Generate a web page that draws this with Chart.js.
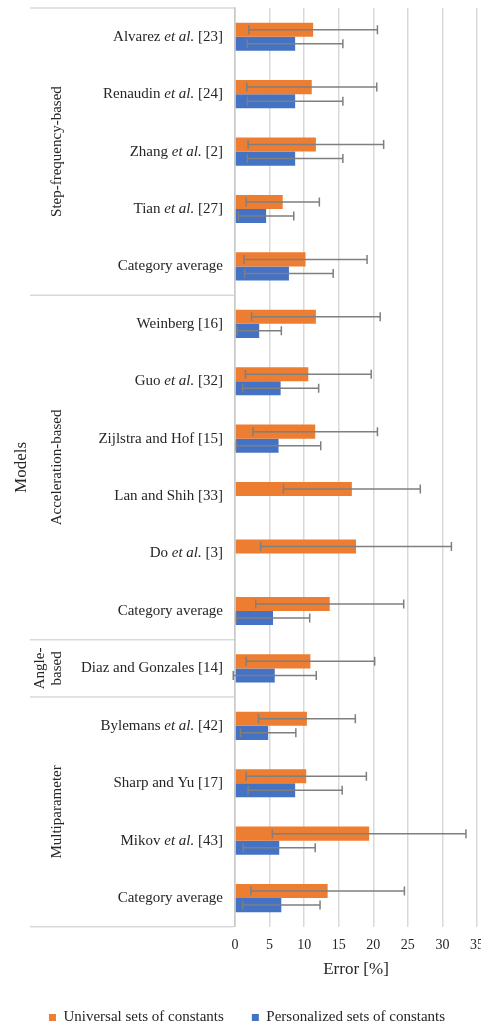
<!DOCTYPE html>
<html>
<head>
<meta charset="utf-8">
<script src="https://cdn.jsdelivr.net/npm/chart.js@4"></script>
<style>
  html, body { margin: 0; padding: 0; background: #fff; overflow: hidden; }
  #wrap { position: relative; width: 494px; height: 1025px; }
</style>
</head>
<body>
<div id="wrap"><canvas id="chart"></canvas></div>
<script>
// labels: text between * * is drawn in italics
const models = ['Alvarez *et al.* [23]', 'Renaudin *et al.* [24]', 'Zhang *et al.* [2]', 'Tian *et al.* [27]',
  'Category average', 'Weinberg [16]', 'Guo *et al.* [32]', 'Zijlstra and Hof [15]', 'Lan and Shih [33]',
  'Do *et al.* [3]', 'Category average', 'Diaz and Gonzales [14]', 'Bylemans *et al.* [42]', 'Sharp and Yu [17]',
  'Mikov *et al.* [43]', 'Category average']
const universal = [11.3, 11.1, 11.7, 6.9, 10.2, 11.7, 10.6, 11.6, 16.9, 17.5, 13.7, 10.9, 10.4, 10.3, 19.4, 13.4]
const universalSd = [9.3, 9.4, 9.8, 5.3, 8.9, 9.3, 9.1, 9.0, 9.9, 13.8, 10.7, 9.3, 7.0, 8.7, 14.0, 11.1]
const personalized = [8.7, 8.7, 8.7, 4.5, 7.8, 3.5, 6.6, 6.3, null, null, 5.5, 5.75, 4.8, 8.7, 6.4, 6.7]
const personalizedSd = [6.9, 6.9, 6.9, 4.0, 6.4, 3.2, 5.5, 6.1, null, null, 5.3, 6.0, 4.0, 6.8, 5.2, 5.6]
const groupNames = [['Step-frequency-based'], ['Acceleration-based'], ['Angle-', 'based'], ['Multiparameter']]
const groupSizes = [5, 6, 1, 4]
const xTicks = [0, 5, 10, 15, 20, 25, 30, 35]

const SERIF = "'Liberation Serif', 'DejaVu Serif', serif"
const TEXT = '#262626'
const LINE = '#d9d9d9'

function drawMixed(ctx, label, xRight, y, size) {
  const parts = label.split('*')
  let w = 0
  parts.forEach((p, i) => {
    ctx.font = (i % 2 ? 'italic ' : '') + size + 'px ' + SERIF
    w += ctx.measureText(p).width
  })
  let x = xRight - w
  ctx.textAlign = 'left'
  ctx.textBaseline = 'middle'
  parts.forEach((p, i) => {
    ctx.font = (i % 2 ? 'italic ' : '') + size + 'px ' + SERIF
    ctx.fillText(p, x, y)
    x += ctx.measureText(p).width
  })
}

const errorBars = {
  id: 'errorBars',
  afterDatasetsDraw(chart) {
    const ctx = chart.ctx
    const xs = chart.scales.x
    const sds = [universalSd, personalizedSd]
    ctx.save()
    ctx.strokeStyle = '#7f7f7f'
    ctx.lineWidth = 1.5
    chart.data.datasets.forEach((ds, d) => {
      const meta = chart.getDatasetMeta(d)
      meta.data.forEach((bar, i) => {
        const v = ds.data[i], sd = sds[d][i]
        if (v == null || sd == null) return
        const x1 = xs.getPixelForValue(v - sd), x2 = xs.getPixelForValue(v + sd)
        const y = bar.y
        ctx.beginPath()
        ctx.moveTo(x1, y); ctx.lineTo(x2, y)
        ctx.moveTo(x1, y - 4.5); ctx.lineTo(x1, y + 4.5)
        ctx.moveTo(x2, y - 4.5); ctx.lineTo(x2, y + 4.5)
        ctx.stroke()
      })
    })
    ctx.restore()
  }
}

const sideLabels = {
  id: 'sideLabels',
  afterDraw(chart) {
    const ctx = chart.ctx
    const ys = chart.scales.y
    const area = chart.chartArea
    ctx.save()
    ctx.fillStyle = TEXT
    models.forEach((m, i) => drawMixed(ctx, m, area.left - 12, ys.getPixelForValue(i), 15))

    // group separators
    ctx.strokeStyle = LINE
    ctx.lineWidth = 1.5
    const bounds = [area.top]
    let k = 0
    groupSizes.forEach(n => {
      k += n
      if (k < models.length) bounds.push((ys.getPixelForValue(k - 1) + ys.getPixelForValue(k)) / 2)
    })
    bounds.push(area.bottom)
    bounds.forEach(b => {
      ctx.beginPath(); ctx.moveTo(30, b); ctx.lineTo(area.left - 1, b); ctx.stroke()
    })

    // group names, rotated
    ctx.font = '15px ' + SERIF
    ctx.textAlign = 'center'
    ctx.textBaseline = 'middle'
    groupNames.forEach((lines, g) => {
      const cy = (bounds[g] + bounds[g + 1]) / 2
      lines.forEach((t, j) => {
        const cx = 57 - (lines.length - 1 - j) * 17
        ctx.save()
        ctx.translate(cx, cy)
        ctx.rotate(-Math.PI / 2)
        ctx.fillText(t, 0, 0)
        ctx.restore()
      })
    })

    ctx.font = '17px ' + SERIF
    ctx.save()
    ctx.translate(22, (area.top + area.bottom) / 2)
    ctx.rotate(-Math.PI / 2)
    ctx.fillText('Models', 0, 0)
    ctx.restore()
    ctx.restore()
  }
}

new Chart(document.getElementById('chart'), {
  type: 'bar',
  data: {
    labels: models.map(m => m.replace(/\*/g, '')),
    datasets: [
      { label: 'Universal sets of constants', data: universal, backgroundColor: '#ed7d31' },
      { label: 'Personalized sets of constants', data: personalized, backgroundColor: '#4472c4' }
    ]
  },
  options: {
    indexAxis: 'y',
    responsive: true,
    maintainAspectRatio: false,
    animation: false,
    layout: { padding: { left: 0, top: 8, right: 0, bottom: -10 } },
    datasets: { bar: { barPercentage: 1.0, categoryPercentage: 0.49 } },
    plugins: {
      tooltip: { enabled: false },
      legend: {
        position: 'bottom',
        labels: {
          boxWidth: 7, boxHeight: 7, padding: 28, color: TEXT,
          font: { family: SERIF, size: 15 }
        }
      }
    },
    scales: {
      x: {
        min: xTicks[0],
        max: xTicks[xTicks.length - 1],
        afterBuildTicks: axis => { axis.ticks = xTicks.map(v => ({ value: v })) },
        grid: { color: LINE, lineWidth: 1.5, drawTicks: false },
        border: { display: false },
        ticks: { padding: 10, color: TEXT, font: { family: SERIF, size: 14 } },
        title: { display: true, text: 'Error [%]', color: TEXT, font: { family: SERIF, size: 17 }, padding: { top: -4, bottom: 2 } }
      },
      y: {
        afterFit: axis => { axis.width = 235 },
        grid: { display: false },
        border: { color: '#c8c8c8', width: 1.5 },
        ticks: { display: false }
      }
    }
  },
  plugins: [errorBars, sideLabels]
})
</script>
</body>
</html>
